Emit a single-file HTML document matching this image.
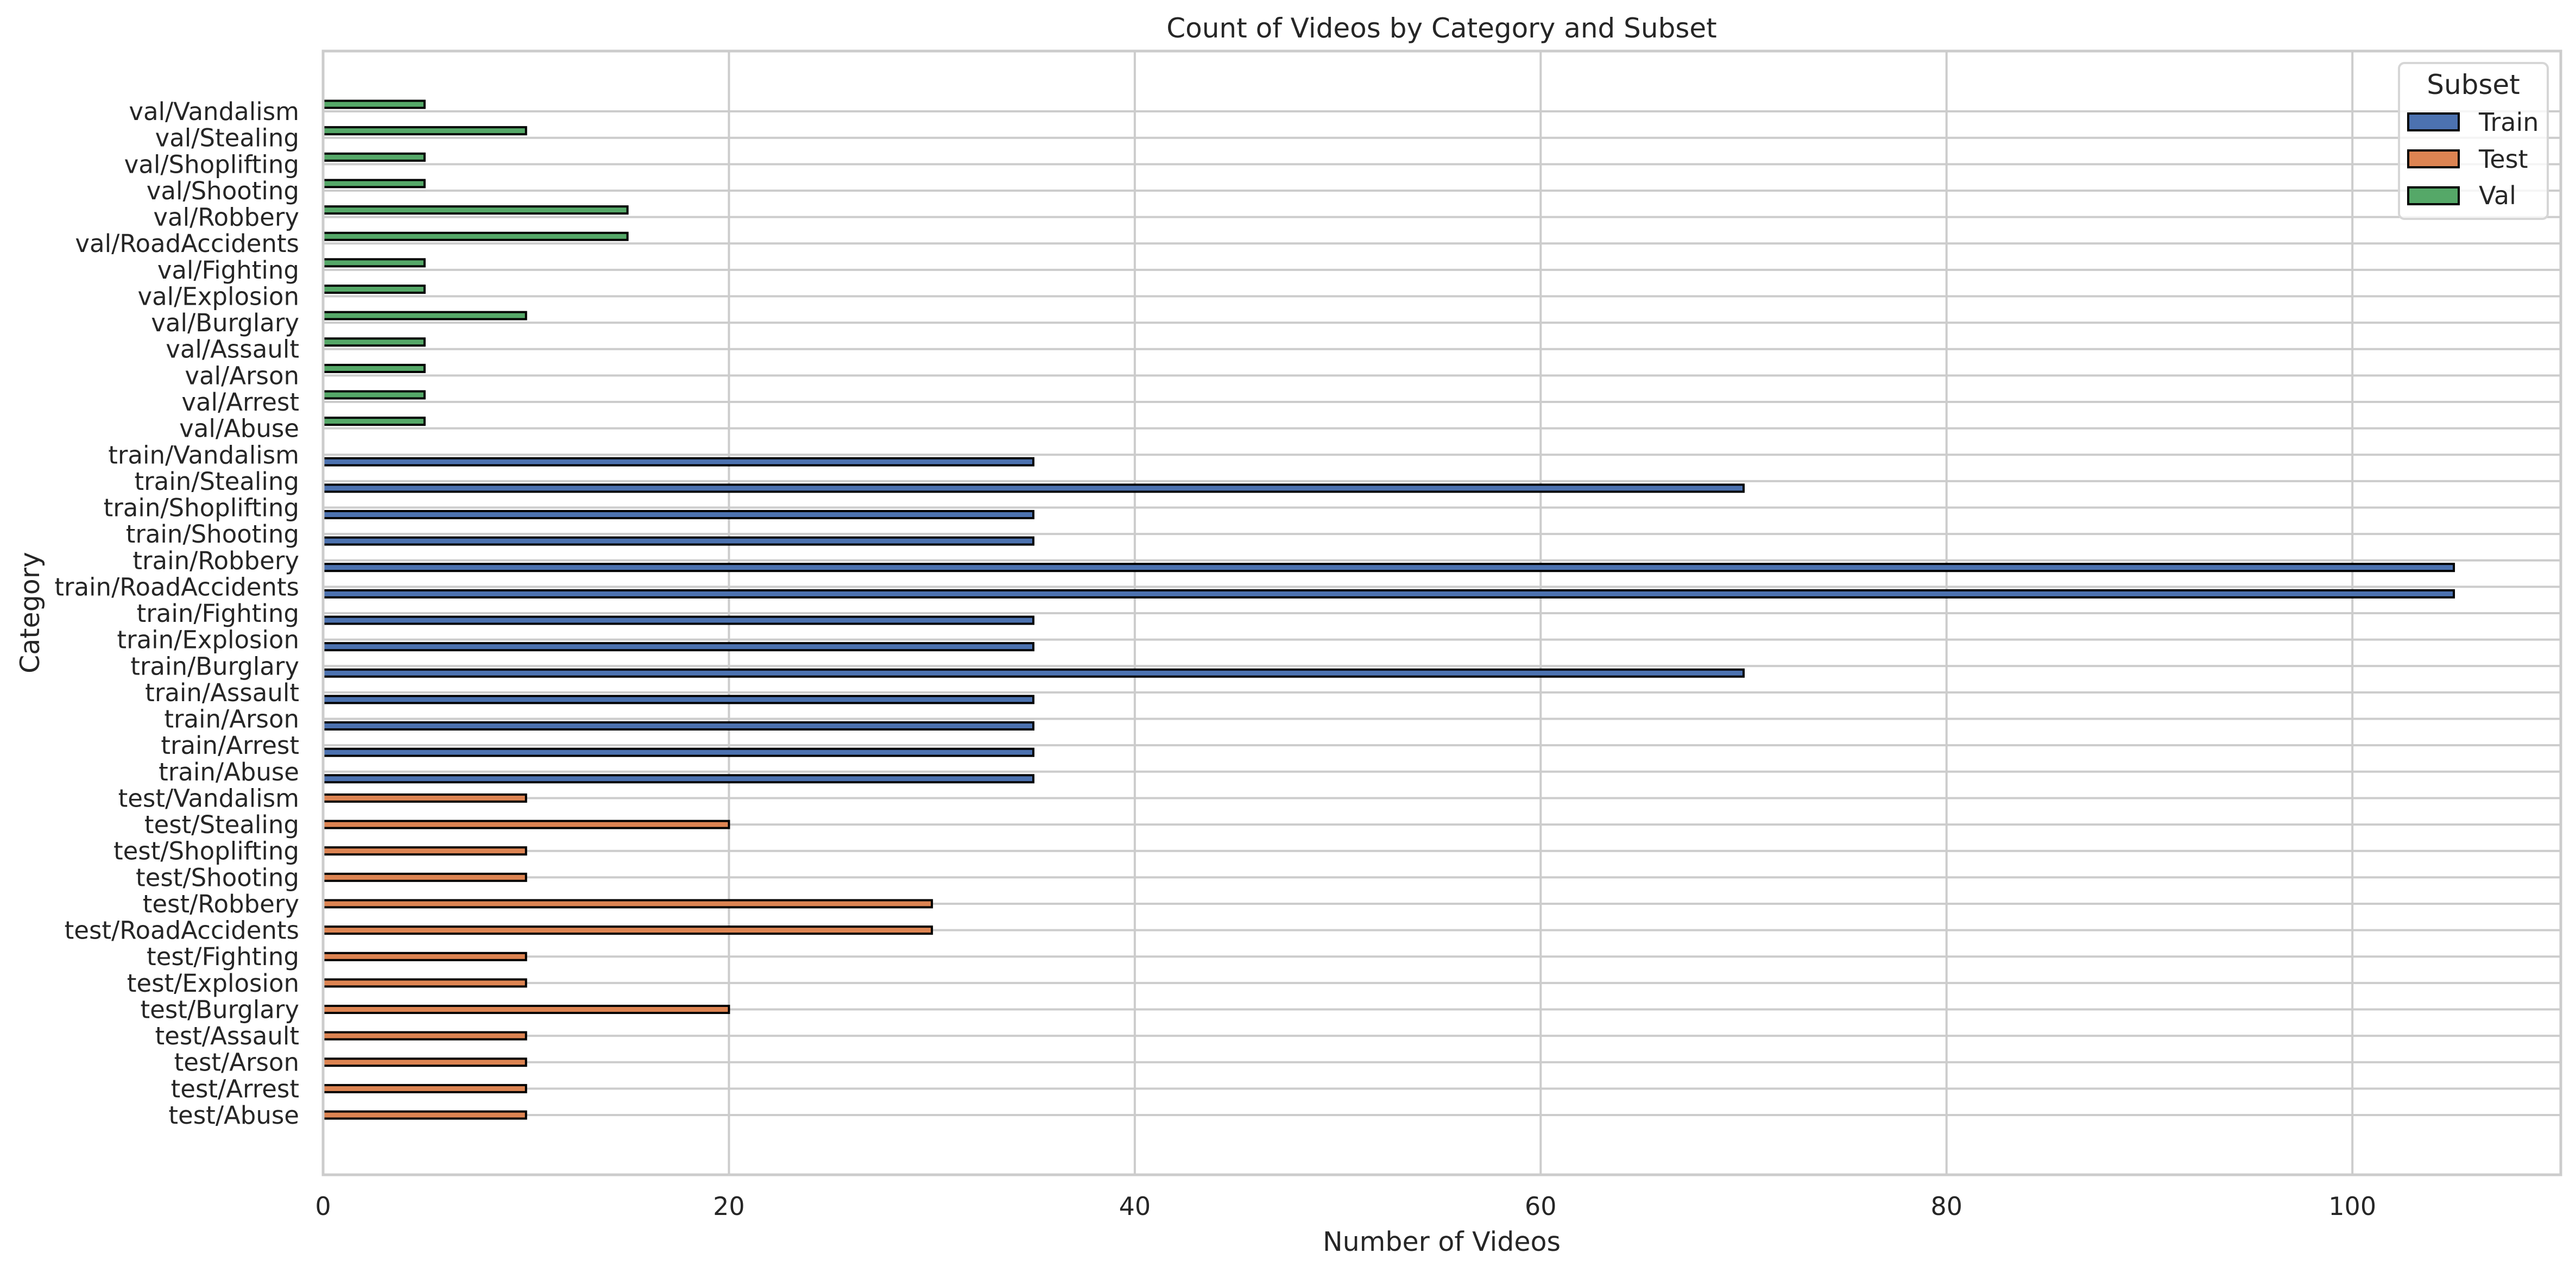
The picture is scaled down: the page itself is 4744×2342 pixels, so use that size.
<!DOCTYPE html>
<html>
<head>
<meta charset="utf-8">
<style>
  html,body{margin:0;padding:0;background:#fff;}
  svg{display:block;}
  text{font-family:"DejaVu Sans","Liberation Sans",sans-serif;fill:#262626;}
</style>
</head>
<body>
<svg id="chart" width="4744" height="2342" viewBox="0 0 4744 2342" xmlns="http://www.w3.org/2000/svg">
  <rect x="0" y="0" width="4744" height="2342" fill="#ffffff"/>
  <g id="grid"></g>
  <g id="bars"></g>
  <rect x="595" y="94" width="4121" height="2069" fill="none" stroke="#cccccc" stroke-width="5"/>
  <g id="yticks"></g>
  <g id="xticks"></g>
  <text x="2655" y="69" font-size="50" text-anchor="middle">Count of Videos by Category and Subset</text>
  <text x="2655" y="2303" font-size="49" text-anchor="middle">Number of Videos</text>
  <text x="0" y="0" font-size="49" text-anchor="middle" transform="translate(72,1128) rotate(-90)">Category</text>
  <g>
    <rect x="4418" y="116" width="274" height="287" rx="10" ry="10" fill="#ffffff" fill-opacity="0.8" stroke="#d6d6d6" stroke-width="4"/>
    <text x="4555" y="173" font-size="50" text-anchor="middle">Subset</text>
    <g>
      <rect x="4435" y="209" width="93" height="31" fill="#4c72b0" stroke="#000" stroke-width="4"/>
      <text x="4565" y="241" font-size="46">Train</text>
    </g>
    <g>
      <rect x="4435" y="277" width="93" height="31" fill="#dd8452" stroke="#000" stroke-width="4"/>
      <text x="4565" y="309" font-size="46">Test</text>
    </g>
    <g>
      <rect x="4435" y="345" width="93" height="31" fill="#55a868" stroke="#000" stroke-width="4"/>
      <text x="4565" y="376" font-size="46">Val</text>
    </g>
  </g>
</svg>
<script>
// Categories listed bottom-to-top within each subset
const classes = ["Abuse","Arrest","Arson","Assault","Burglary","Explosion","Fighting","RoadAccidents","Robbery","Shooting","Shoplifting","Stealing","Vandalism"];
const subsets = ["test","train","val"];
const testValues  = [10,10,10,10,20,10,10,30,30,10,10,20,10];
const trainValues = [35,35,35,35,70,35,35,105,105,35,35,70,35];
const valValues   = [5,5,5,5,10,5,5,15,15,5,5,10,5];
const xTicks = [0,20,40,60,80,100];

const NS = "http://www.w3.org/2000/svg";
const X0 = 595, XMAX_PX = 4716, XMAX = 110.27;
const Y_BOTTOM_TICK = 2053, STEP = 48.63;
function xScale(v){ return X0 + v * (XMAX_PX - X0) / XMAX; }
function yScale(i){ return Y_BOTTOM_TICK - i * STEP; }

const colors = {train:"#4c72b0", test:"#dd8452", val:"#55a868"};
const offsets = {train: 0.267, test: 0, val: -0.267};
const seriesVals = {test: testValues, train: trainValues, val: valValues};

const grid = document.getElementById("grid");
const bars = document.getElementById("bars");
const yt = document.getElementById("yticks");
const xt = document.getElementById("xticks");

// vertical grid + x tick labels
xTicks.forEach(t => {
  const x = xScale(t);
  const l = document.createElementNS(NS, "line");
  
  
  l.setAttribute("x1", x); l.setAttribute("x2", x);
  l.setAttribute("y1", 94); l.setAttribute("y2", 2163);
  l.setAttribute("stroke", "#cccccc"); l.setAttribute("stroke-width", 4);
  grid.appendChild(l);
  const tx = document.createElementNS(NS, "text");
  
  
  tx.setAttribute("x", x); tx.setAttribute("y", 2237);
  tx.setAttribute("font-size", 46); tx.setAttribute("text-anchor", "middle");
  tx.textContent = String(t);
  xt.appendChild(tx);
});

let idx = 0;
subsets.forEach(sub => {
  classes.forEach((c, j) => {
    const y = yScale(idx);
    const l = document.createElementNS(NS, "line");
    
    
    l.setAttribute("x1", X0); l.setAttribute("x2", XMAX_PX);
    l.setAttribute("y1", y); l.setAttribute("y2", y);
    l.setAttribute("stroke", "#cccccc"); l.setAttribute("stroke-width", 4);
    grid.appendChild(l);

    const v = seriesVals[sub][j];
    const h = 0.267 * STEP;
    const cy = y + offsets[sub] * STEP;
    const r = document.createElementNS(NS, "rect");
    
    
    r.setAttribute("x", X0); r.setAttribute("y", cy - h/2);
    r.setAttribute("width", xScale(v) - X0); r.setAttribute("height", h);
    r.setAttribute("fill", colors[sub]); r.setAttribute("stroke", "#000");
    r.setAttribute("stroke-width", 4);
    bars.appendChild(r);

    const tx = document.createElementNS(NS, "text");
    
    
    tx.setAttribute("x", 551); tx.setAttribute("y", y + 16);
    tx.setAttribute("font-size", 45); tx.setAttribute("text-anchor", "end");
    tx.textContent = sub + "/" + c;
    yt.appendChild(tx);
    idx++;
  });
});
</script>
</body>
</html>
